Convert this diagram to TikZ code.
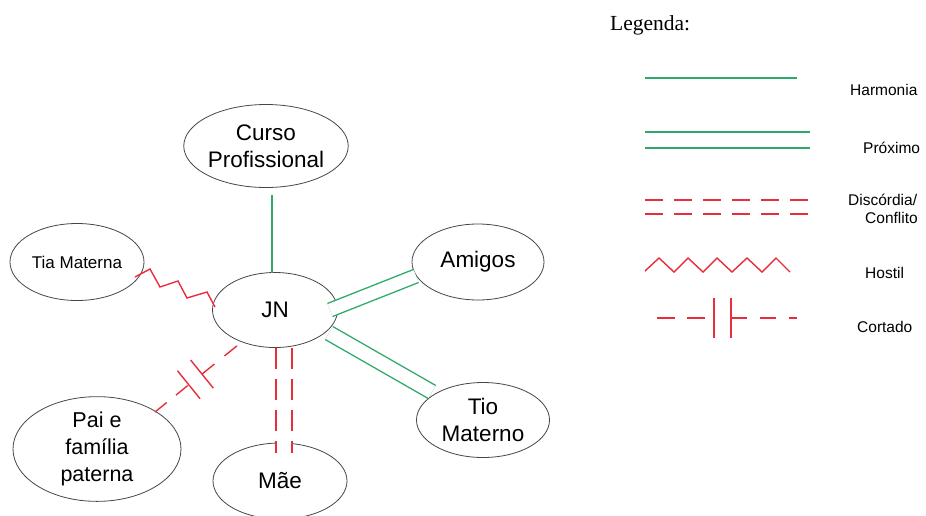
\documentclass[tikz,border=0pt]{standalone}
\usepackage{fontspec}
\setmainfont{Liberation Sans}
\newfontfamily\legserif{Liberation Serif}
\usetikzlibrary{calc,shapes.geometric}
\definecolor{grn}{RGB}{45,170,105}
\definecolor{rd}{RGB}{232,45,60}
\definecolor{outl}{RGB}{70,70,70}
\begin{document}
\begin{tikzpicture}[x=1pt,y=-1pt,
  person/.style={ellipse, draw=outl, line width=0.8pt, inner sep=0pt, align=center,
                 font=\fontsize{22.5}{27}\selectfont},
  harm/.style={draw=grn, line width=1.4pt},
  prox/.style={draw=grn, line width=1.4pt, double=white, double distance=12.5pt},
  hostil/.style={draw=rd, line width=1.4pt, line join=miter},
  cutln/.style={draw=rd, line width=1.4pt},
  disc/.style={draw=rd, line width=1.4pt, double=white, double distance=14.6pt,
               dash pattern=on 21pt off 10pt},
  leglabel/.style={anchor=base west, inner sep=0pt, font=\fontsize{15.5}{18}\selectfont}
]
\fill[white] (0,0) rectangle (926,515);
\useasboundingbox (0,0) rectangle (926,515);

% nodes
\node[person, minimum width=146pt, minimum height=83pt] (curso) at (266,146) {Curso\\Profissional};
\node[person, minimum width=132pt, minimum height=76pt] (amigos) at (478,262) {Amigos};
\node[person, minimum width=125pt, minimum height=75pt] (jn) at (275,310) {JN};
\node[person, minimum width=134pt, minimum height=77pt, font=\fontsize{17}{20}\selectfont] (tia) at (77,262) {Tia Materna};
\node[person, minimum width=168pt, minimum height=97pt, font=\fontsize{21.5}{27}\selectfont] (pai) at (97,449) {Pai e\\família\\paterna};
\node[person, minimum width=134pt, minimum height=76pt] (mae) at (280,481) {Mãe};
\node[person, minimum width=133pt, minimum height=75pt] (tio) at (483,420) {Tio\\Materno};

% connectors
\draw[harm] ($(curso)+(6,49)$) -- ($(jn)+(-3,-37)$);
\draw[prox] ($(jn)+(55,0)$) -- ($(amigos)+(-62,14)$);
\draw[prox, double distance=13.5pt] ($(jn)+(54,23)$) -- ($(tio)+(-51,-28)$);
\draw[hostil] ($(tia)+(58,15)$) -- ++(15,-8) -- ++(10,18) -- ++(18,-6) -- ++(9,17) -- ++(20,-6) -- ($(jn)+(-60,-3)$);
\draw[disc] ($(jn)+(9,38)$) -- ($(mae)+(4,-28)$);

\coordinate (pa) at ($(pai)+(58,-37)$);
\coordinate (pb) at ($(jn)+(-37,35)$);
\coordinate (p1) at ($(pa)!0.407!(pb)$);
\coordinate (p2) at ($(pa)!0.566!(pb)$);
\draw[cutln, dash pattern=on 15pt off 12pt] (pa) -- (p1);
\draw[cutln, dash pattern=on 16pt off 13pt] (p2) -- (pb);
\draw[cutln] ($(p1)!18pt!90:(pb)$) -- ($(p1)!18pt!-90:(pb)$);
\draw[cutln] ($(p2)!18pt!90:(pb)$) -- ($(p2)!18pt!-90:(pb)$);

% legend
\node[anchor=base west, inner sep=0pt, font=\legserif\fontsize{21.5}{25}\selectfont] (legtitle) at (610,30) {Legenda:};

\draw[harm] (645,78) -- (797,78);
\node[leglabel] (lharm) at (850,95) {Harmonia};

\draw[harm] (645,132) -- (810,132);
\draw[harm] (645,148) -- (810,148);
\node[leglabel] (lprox) at (863,153) {Próximo};

\draw[cutln, dash pattern=on 18pt off 11pt] (645,200) -- (808,200);
\draw[cutln, dash pattern=on 18pt off 11pt] (645,214) -- (808,214);
\node[leglabel] (ldisc) at (848,205) {Discórdia/};
\node[leglabel] (lconf) at (865,223) {Conflito};

\draw[hostil] (645,271) -- (659,258) -- (674,272) -- (688,258) -- (703,272) -- (717,258) -- (732,272)
  -- (747,258) -- (762,272) -- (776,258) -- (790,272);
\node[leglabel] (lhost) at (865,278) {Hostil};

\draw[cutln, dash pattern=on 18pt off 12pt] (657,318) -- (714,318);
\draw[cutln] (714,298) -- (714,338);
\draw[cutln] (731,298) -- (731,338);
\draw[cutln, dash pattern=on 16pt off 13pt] (731,318) -- (797,318);
\node[leglabel] (lcort) at (857,332) {Cortado};
\end{tikzpicture}
\end{document}
